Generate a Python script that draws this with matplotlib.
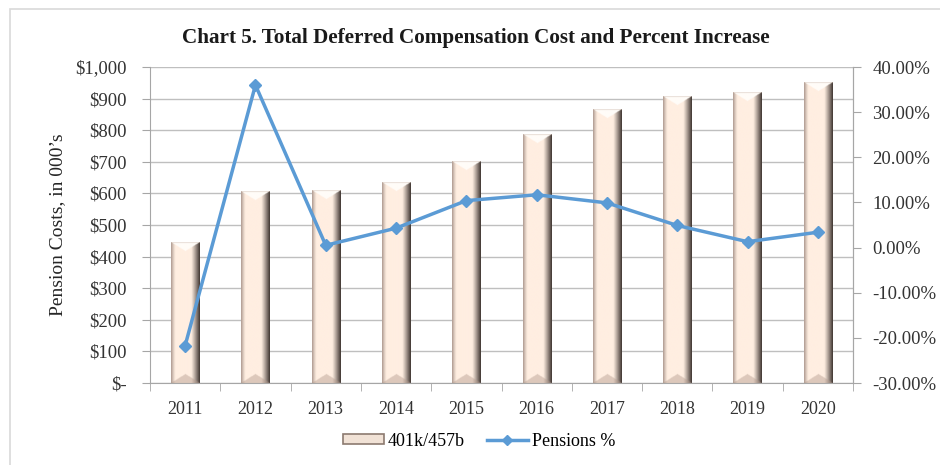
import numpy as np
import matplotlib
matplotlib.use("Agg")
import matplotlib.pyplot as plt
from matplotlib.patches import Rectangle
from matplotlib.lines import Line2D
from matplotlib.ticker import FuncFormatter, FixedLocator

years = ["2011", "2012", "2013", "2014", "2015", "2016", "2017", "2018", "2019", "2020"]
costs = [446, 605, 608, 635, 702, 785, 864, 906, 919, 950]
pct_increase = [-21.7, 36.0, 0.5, 4.3, 10.4, 11.7, 9.9, 4.9, 1.3, 3.4]

title = "Chart 5. Total Deferred Compensation Cost and Percent Increase"
ylabel = "Pension Costs, in 000\u2019s"
bar_label = "401k/457b"
line_label = "Pensions %"

plt.rcParams['font.family'] = ['Liberation Serif', 'DejaVu Serif']

W, H = 940, 465
fig = plt.figure(figsize=(W / 100, H / 100), dpi=100)
ax = fig.add_axes([150 / W, 1 - 383 / H, (853 - 150) / W, (383 - 67) / H])

x = np.arange(len(years))
bw = 0.4
ax.set_xlim(-0.5, len(years) - 0.5)
ax.set_ylim(0, 1000)

# gray frame on the figure
fig.patches.append(Rectangle((10 / W, -0.1), 1, 1.1 - 9 / H, transform=fig.transFigure,
                             fill=False, edgecolor="#d9d9d9", lw=1.2))

# bars (invisible base patches, with a beveled gradient image on top)
bars = ax.bar(x, costs, width=bw, color="none", edgecolor="none", zorder=2)

px_per_unit = (383 - 67) / 1000.0
ncols = 56
for b, v in zip(bars, costs):
    nrows = max(int(round(v * px_per_unit)) * 2, 4)
    u = (np.arange(ncols) + 0.5) / ncols
    r = (np.arange(nrows) + 0.5) / nrows
    U, R = np.meshgrid(u, r)
    cream = np.array([255, 238, 225]) / 255.0
    left = np.array([170, 150, 140]) / 255.0
    right = np.array([60, 50, 46]) / 255.0
    img = np.tile(cream, (nrows, ncols, 1)).astype(float)
    wl = np.clip((0.16 - U) / 0.16, 0, 1)[..., None] ** 1.3
    img = img * (1 - wl) + left * wl
    wr = np.clip((U - 0.70) / 0.30, 0, 1)[..., None] ** 1.1
    img = img * (1 - wr) + right * wr
    bev = 18.0 / nrows
    top = R < bev
    tri = top & (np.abs(U - 0.5) < 0.5 * (1 - R / bev))
    img[tri] = np.array([255, 252, 248]) / 255.0
    bot = R > 1 - bev
    trap = bot & (np.abs(U - 0.5) < 0.5 * (1 - (1 - R) / bev))
    img[trap] = img[trap] * 0.55 + np.array([180, 155, 142]) / 255.0 * 0.45
    img[:2, :] = img[:2, :] * 0.6 + np.array([200, 180, 168]) / 255.0 * 0.4
    bx, by = b.get_x(), b.get_y()
    ax.imshow(img, extent=[bx, bx + b.get_width(), by, by + b.get_height()],
              aspect="auto", interpolation="bilinear", zorder=2)

ax.set_aspect("auto")
ax.set_xlim(-0.5, len(years) - 0.5)
ax.set_ylim(0, 1000)

ax.set_yticks(np.arange(0, 1001, 100))
ax.yaxis.grid(True, color="#bfbfbf", lw=1)
ax.set_axisbelow(True)

def money(v, pos):
    if v == 0:
        return "$-"
    return "${:,.0f}".format(v)

ax.yaxis.set_major_formatter(FuncFormatter(money))
ax.tick_params(axis="y", length=6, color="#a6a6a6", labelsize=13.5, labelcolor="#333333", pad=11)
ax.set_xticks(x)
ax.set_xticklabels(years)
ax.xaxis.set_minor_locator(FixedLocator(np.arange(-0.5, len(years), 1)))
ax.tick_params(axis="x", which="major", length=0, labelsize=13, labelcolor="#333333", pad=13)
ax.tick_params(axis="x", which="minor", length=6, color="#a6a6a6")
for s in ["left", "right", "bottom"]:
    ax.spines[s].set_color("#a6a6a6")
ax.spines["top"].set_visible(False)
ax.set_ylabel(ylabel, fontsize=14, color="#262626", labelpad=6)

ax2 = ax.twinx()
ax2.set_ylim(-30, 40)
ax2.set_yticks(np.arange(-30, 41, 10))
ax2.yaxis.set_major_formatter(FuncFormatter(lambda v, p: "{:.2f}%".format(v)))
ax2.tick_params(axis="y", length=6, color="#a6a6a6", labelsize=13.5, labelcolor="#333333", pad=8)
for s in ax2.spines.values():
    s.set_visible(False)
ax2.spines["right"].set_visible(True)
ax2.spines["right"].set_color("#a6a6a6")
line_color = "#5B9BD5"
ax2.plot(x, pct_increase, color=line_color, lw=2.5, marker="D", ms=6.5, zorder=5)

fig.suptitle(title, x=476 / W, y=1 - 38 / H, va="center", fontsize=15.2, fontweight="bold", color="#1a1a1a")

handles = [Rectangle((0, 0), 1, 1, facecolor="#f1e2d6", edgecolor="#8c7a70", lw=1.2),
           Line2D([], [], color=line_color, lw=2.5, marker="D", ms=5)]
fig.legend(handles, [bar_label, line_label], loc="center", bbox_to_anchor=(479 / W, 1 - 441 / H),
           ncol=2, frameon=False, fontsize=13, handlelength=2.3, handleheight=0.5,
           columnspacing=1.2, handletextpad=0.2)

fig.savefig("out.png", dpi=100)
